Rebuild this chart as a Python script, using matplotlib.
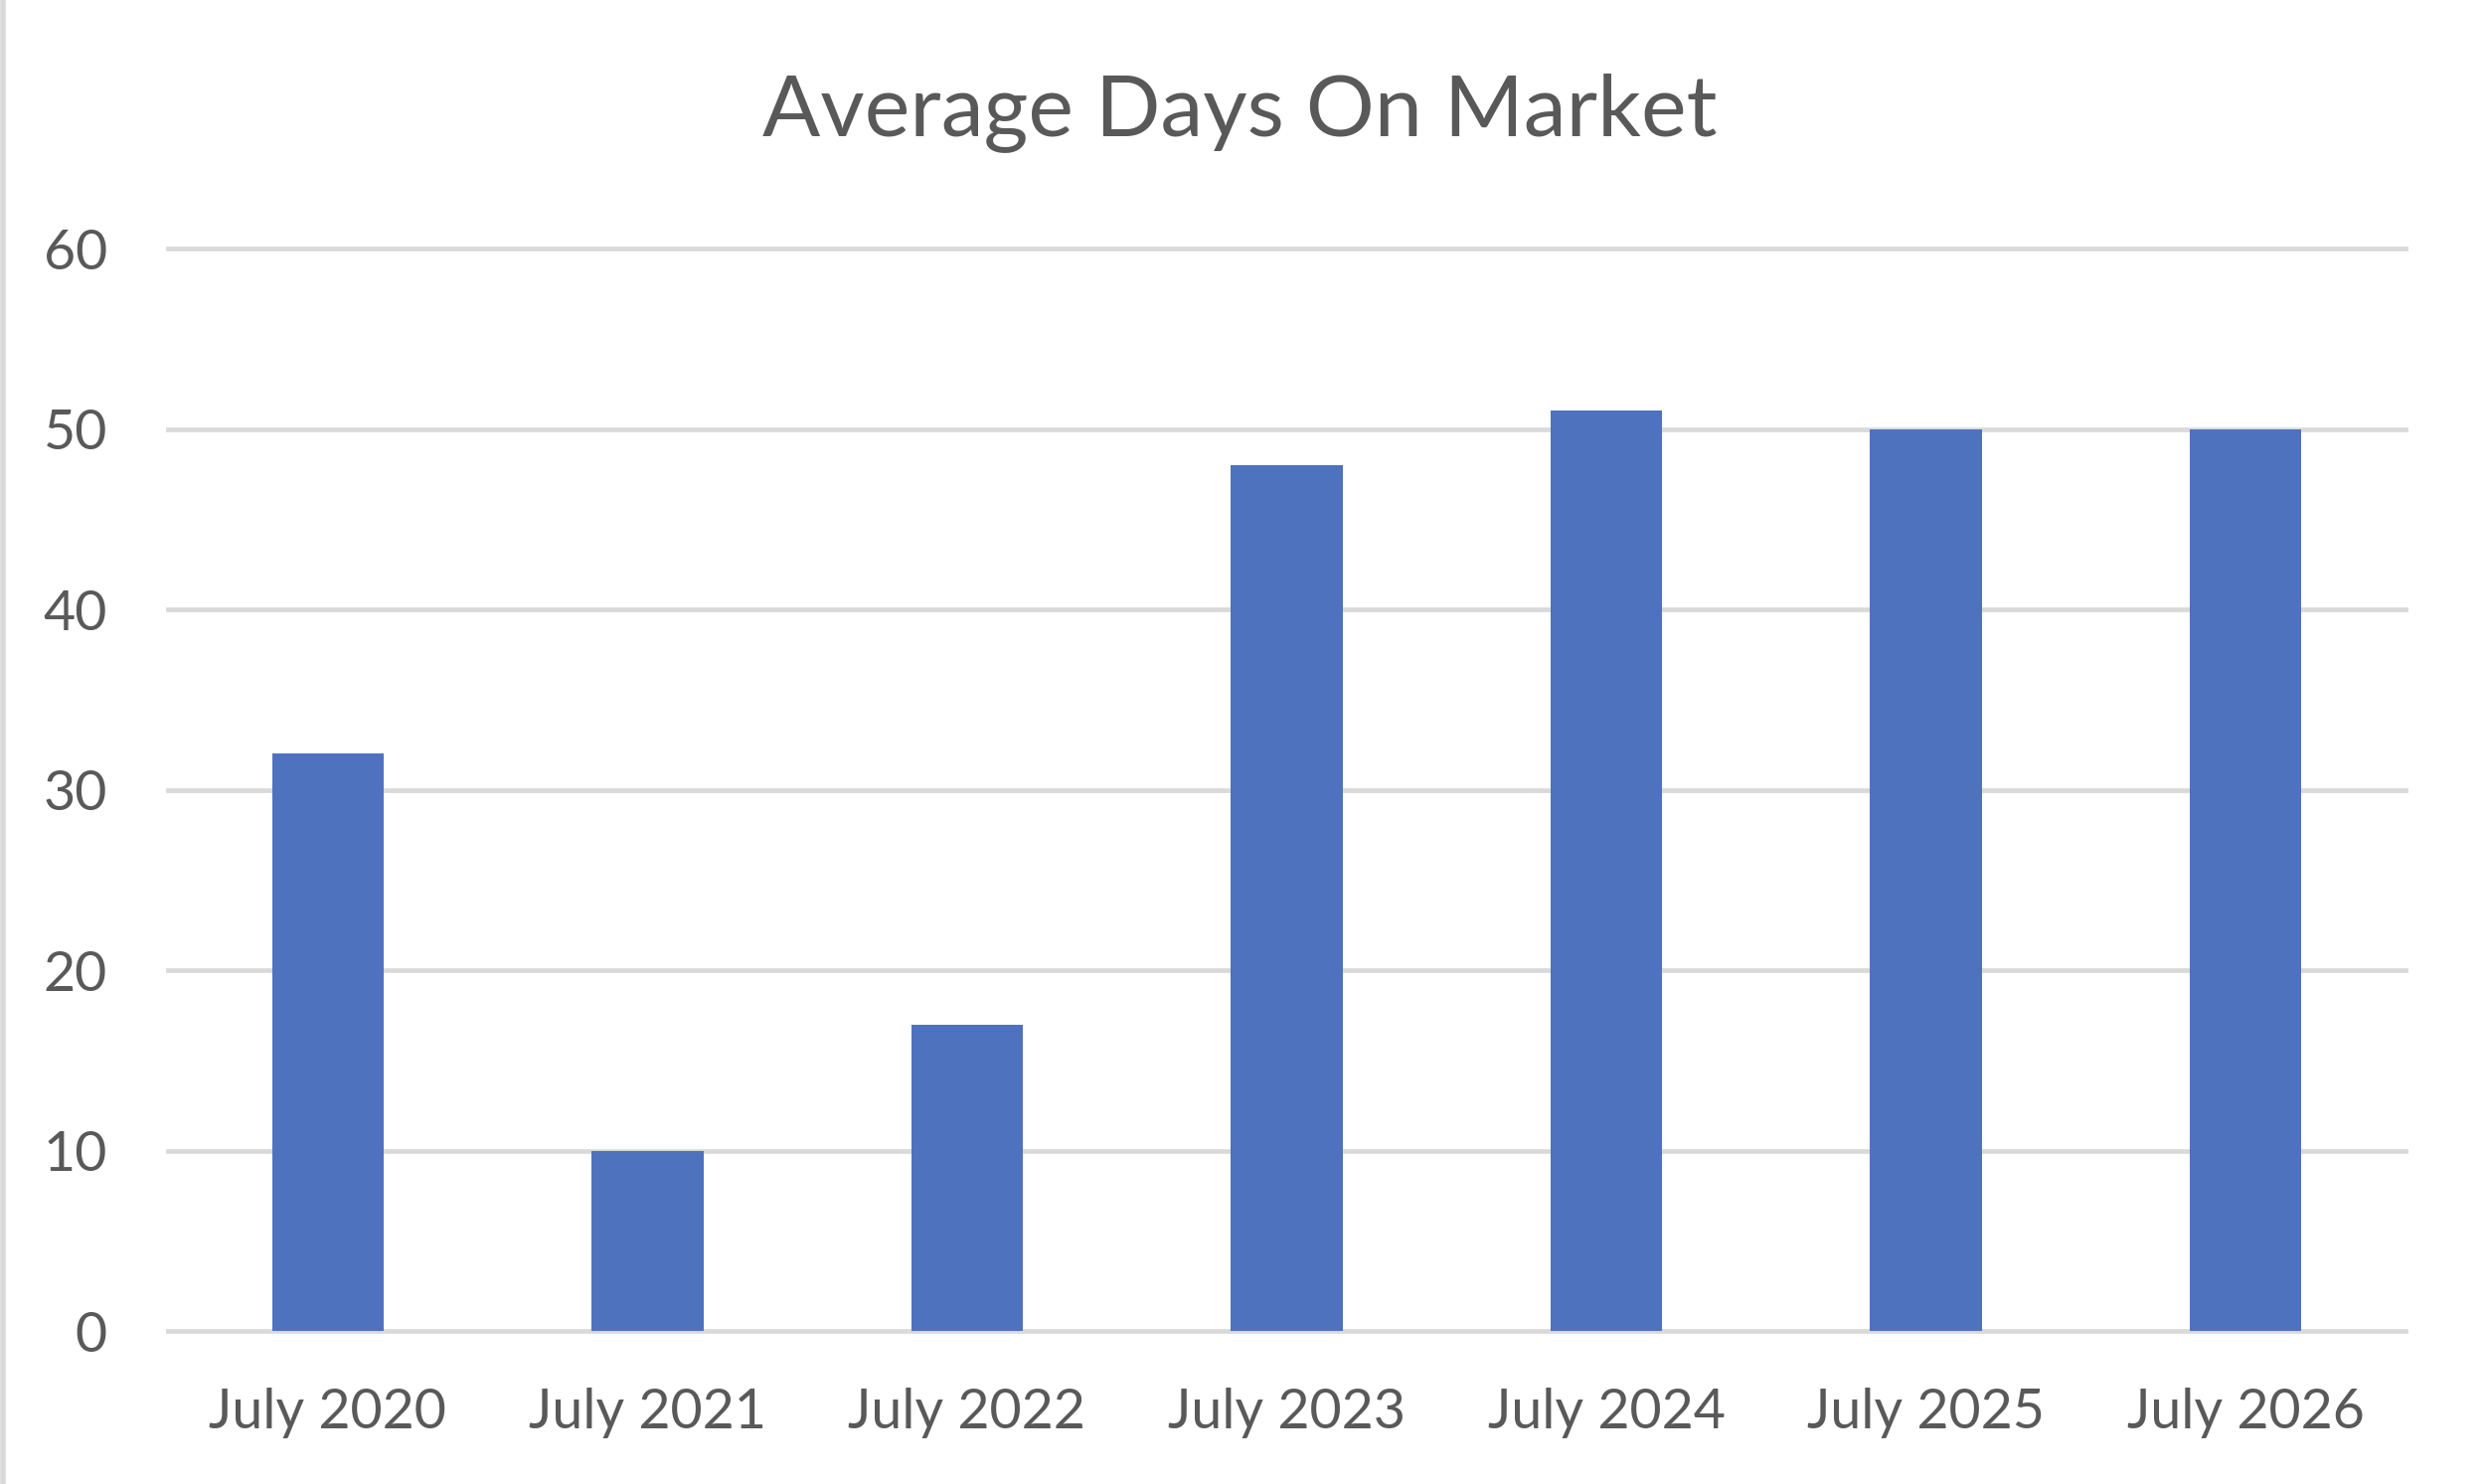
import matplotlib
matplotlib.use("Agg")
import matplotlib.pyplot as plt
from matplotlib.lines import Line2D

categories = ["July 2020", "July 2021", "July 2022", "July 2023", "July 2024", "July 2025", "July 2026"]
values = [32, 10, 17, 48, 51, 50, 50]
yticks = [0, 10, 20, 30, 40, 50, 60]
title = "Average Days On Market"

text_color = "#595959"
grid_color = "#D9D9D9"
bar_color = "#4F72BE"

plt.rcParams['font.family'] = ['Lato', 'DejaVu Sans']

fig = plt.figure(figsize=(25, 14.93), dpi=100)
ax = fig.add_axes([0.0676, 0.1031, 0.968 - 0.0676, 0.8325 - 0.1031])

x = list(range(len(categories)))
ax.bar(x, values, width=0.35, color=bar_color, zorder=3)

ax.set_xlim(-0.5, len(categories) - 0.5)
ax.set_ylim(0, 60)
ax.set_yticks(yticks)
ax.set_yticklabels([str(v) for v in yticks])
ax.set_xticks(x)
ax.set_xticklabels(categories)

for v in yticks:
    ax.axhline(v, color=grid_color, lw=3.4, zorder=1, clip_on=False)

for s in ax.spines.values():
    s.set_visible(False)
ax.tick_params(axis='both', length=0, labelsize=40, colors=text_color)
ax.tick_params(axis='y', pad=44)
ax.tick_params(axis='x', pad=41)

fig.text(0.499, 0.924, title, ha='center', va='center', fontsize=62, color=text_color)

# left border of the chart area
fig.add_artist(Line2D([0.001, 0.001], [0, 1], transform=fig.transFigure, color=grid_color, lw=4))

fig.savefig("out.png", dpi=100, facecolor="white")
